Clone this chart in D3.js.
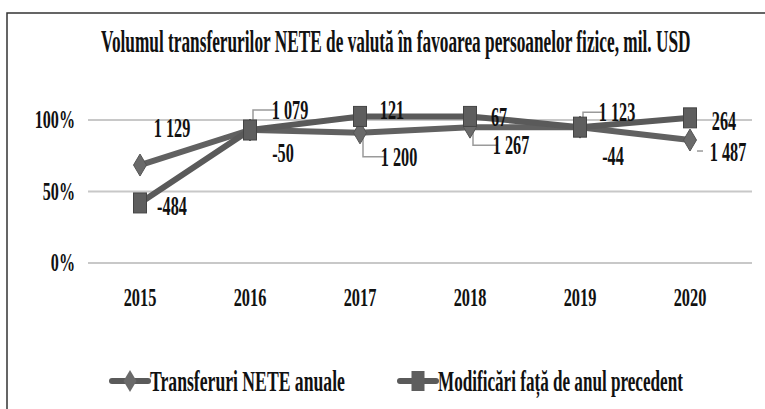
<!DOCTYPE html>
<html>
<head>
<meta charset="utf-8">
<script src="https://cdn.jsdelivr.net/npm/d3@7"></script>
<style>
  body { margin: 0; background: #fff; }
  svg text { font-family: "Liberation Serif", "Times New Roman", serif; font-weight: bold; fill: #111; }
</style>
</head>
<body>
<svg width="765" height="409"></svg>
<script>
// data
var years = ["2015", "2016", "2017", "2018", "2019", "2020"];
var yTicks = [0, 0.5, 1];
// share plotted (y position) and the value printed next to each point
var transferShare = [0.685, 0.93, 0.91, 0.95, 0.95, 0.86];
var transferLabels = ["1 129", "1 079", "1 200", "1 267", "1 123", "1 487"];
var changeShare = [0.42, 0.93, 1.025, 1.025, 0.95, 1.015];
var changeLabels = ["-484", "-50", "121", "67", "-44", "264"];
var seriesNames = ["Transferuri NETE anuale", "Modificări  față de anul precedent"];

// label offsets from the point (px)
var transferOff = [[32, -37], [40, -20], [39, 24], [41, 18], [37, -15], [38, 12]];
var changeOff = [[32, 3], [33, 23], [32, -7], [29, 0], [33, 29], [34, 3]];

var svg = d3.select("svg");
var lineColor = "#5a5a5a";

// frame (cut off on the right and bottom like the original)
svg.append("rect")
    .attr("x", 7).attr("y", 13)
    .attr("width", 800).attr("height", 450)
    .attr("fill", "none")
    .attr("stroke", "#333")
    .attr("stroke-width", 1.5);

var x = d3.scalePoint().domain(years).range([85, 745]).padding(0.5);
var y = d3.scaleLinear().domain([0, 1]).range([263, 120]);

// squeezed text helper
function label(g, tx, ty, str, size, sx, anchor) {
  return g.append("text")
      .attr("transform", "translate(" + tx + "," + ty + ") scale(" + sx + ",1)")
      .attr("text-anchor", anchor || "middle")
      .attr("dominant-baseline", "central")
      .style("font-size", size + "px")
      .text(str);
}

// text squeezed to a given width, left aligned
function fitted(g, tx, ty, str, size, w) {
  var t = g.append("text")
      .attr("dominant-baseline", "central")
      .style("font-size", size + "px")
      .text(str);
  var len = t.node().getComputedTextLength();
  t.attr("transform", "translate(" + tx + "," + ty + ") scale(" + (w / len) + ",1)");
  return t;
}

// title
fitted(svg, 101, 42, "Volumul transferurilor NETE  de valută  în favoarea  persoanelor fizice, mil. USD", 31, 590);

// gridlines
svg.append("g").selectAll("line")
  .data(yTicks)
  .enter().append("line")
    .attr("x1", 88).attr("x2", 752)
    .attr("y1", d => y(d)).attr("y2", d => y(d))
    .attr("stroke", "#c8c8c8")
    .attr("stroke-width", 2);

var yAxis = svg.append("g");
yTicks.forEach(function(t) {
  label(yAxis, 75, y(t), d3.format(".0%")(t), 26, 0.62, "end");
});

var xAxis = svg.append("g");
years.forEach(function(yr) {
  label(xAxis, x(yr), 298, yr, 26, 0.63);
});

var line = d3.line()
    .x((d, i) => x(years[i]))
    .y(d => y(d));

var diamond = "M0,-11L6.5,0L0,11L-6.5,0Z";

// leader lines for labels far from their point
function leader(g, px, py, lx, ly) {
  var ex = lx - 16;
  g.append("path")
      .attr("d", "M" + px + "," + py + "L" + px + "," + ly + "L" + ex + "," + ly)
      .attr("fill", "none")
      .attr("stroke", "#9a9a9a")
      .attr("stroke-width", 1.5);
}

var lead = svg.append("g");
[1, 2, 3, 4].forEach(function(i) {
  var px = x(years[i]) + 3, py = y(transferShare[i]);
  leader(lead, px, py, px + transferOff[i][0], py + transferOff[i][1]);
});
lead.append("line")
    .attr("x1", x(years[5]) + 7).attr("x2", x(years[5]) + 13)
    .attr("y1", y(transferShare[5]) + 11).attr("y2", y(transferShare[5]) + 11)
    .attr("stroke", "#9a9a9a").attr("stroke-width", 1.5);

// series: transfers (diamonds)
svg.append("path")
    .datum(transferShare)
    .attr("d", line)
    .attr("fill", "none")
    .attr("stroke", "#616161")
    .attr("stroke-width", 6);

// series: changes (squares)
svg.append("path")
    .datum(changeShare)
    .attr("d", line)
    .attr("fill", "none")
    .attr("stroke", lineColor)
    .attr("stroke-width", 6);

svg.append("g").selectAll("path")
  .data(transferShare)
  .enter().append("path")
    .attr("d", diamond)
    .attr("transform", (d, i) => "translate(" + x(years[i]) + "," + y(d) + ")")
    .attr("fill", "#6a6a6a")
    .attr("stroke", "#555")
    .attr("stroke-width", 1);

svg.append("g").selectAll("rect")
  .data(changeShare)
  .enter().append("rect")
    .attr("x", (d, i) => x(years[i]) - 6.5)
    .attr("y", d => y(d) - 10)
    .attr("width", 13).attr("height", 20)
    .attr("fill", "#5e5e5e")
    .attr("stroke", "#444")
    .attr("stroke-width", 1);

var labels = svg.append("g");
transferShare.forEach(function(d, i) {
  label(labels, x(years[i]) + transferOff[i][0], y(d) + transferOff[i][1], transferLabels[i], 28, 0.58);
});
changeShare.forEach(function(d, i) {
  label(labels, x(years[i]) + changeOff[i][0], y(d) + changeOff[i][1], changeLabels[i], 28, 0.58);
});

// legend
var legend = svg.append("g");
var legendItems = [
  {name: seriesNames[0], x0: 112, tx: 150, w: 195, mark: "diamond"},
  {name: seriesNames[1], x0: 400, tx: 438, w: 245, mark: "square"}
];
legendItems.forEach(function(it) {
  legend.append("line")
      .attr("x1", it.x0).attr("x2", it.x0 + 36)
      .attr("y1", 381).attr("y2", 381)
      .attr("stroke", lineColor)
      .attr("stroke-width", 6)
      .attr("stroke-linecap", "round");
  if (it.mark == "diamond") {
    legend.append("path")
        .attr("d", diamond)
        .attr("transform", "translate(" + (it.x0 + 18) + ",381)")
        .attr("fill", "#6a6a6a");
  } else {
    legend.append("rect")
        .attr("x", it.x0 + 11.5).attr("y", 371)
        .attr("width", 13).attr("height", 20)
        .attr("fill", "#5e5e5e");
  }
  fitted(legend, it.tx, 381, it.name, 29, it.w);
});
</script>
</body>
</html>
